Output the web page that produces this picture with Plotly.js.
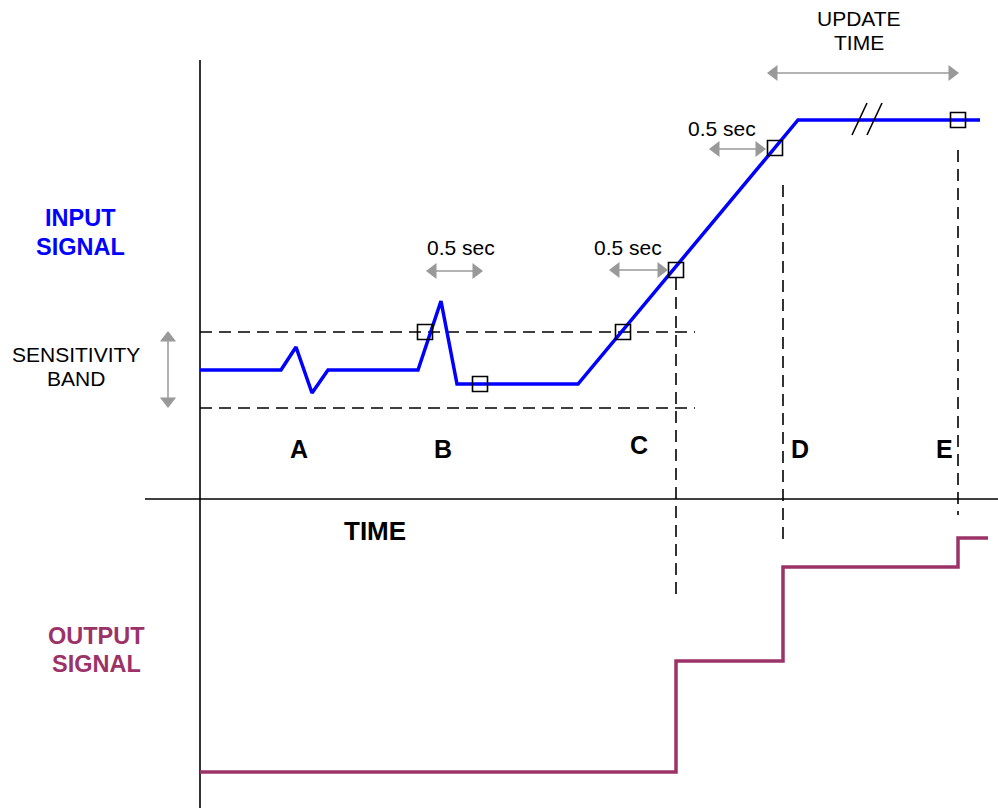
<!DOCTYPE html>
<html>
<head>
<meta charset="utf-8">
<script src="https://cdn.plot.ly/plotly-3.0.1.min.js"></script>
<style>html,body{margin:0;padding:0;background:#fff;}#chart{width:998px;height:808px;}</style>
</head>
<body>
<div id="chart"></div>
<script>
// Diagram coordinates (time on x, signal level on y; y grows downward)
var inputTime   = [200, 281, 296, 312, 328, 418, 441, 457, 578, 798, 980];
var inputSignal = [370, 370, 347, 393, 370, 370, 301, 384, 384, 120, 120];

var outputTime   = [200, 676, 676, 783, 783, 958, 958, 988];
var outputSignal = [772, 772, 661, 661, 567, 567, 538, 538];

var sampleTime  = [425, 480, 623, 676, 775, 958];
var sampleValue = [332, 384, 332, 270, 148, 120];

var bandUpper = 332, bandLower = 408, bandStart = 200, bandEnd = 695;

var markerTime = [676, 783, 958];
var markerTop  = [278, 185, 150];
var markerBottom = [600, 545, 515];

var eventLabels = ['A', 'B', 'C', 'D', 'E'];
var eventX = [299, 443, 639, 800, 944];
var eventY = [449, 449, 445, 449, 449];

var intervalLabels = ['0.5 sec', '0.5 sec', '0.5 sec'];
var intervalStart = [427, 610, 710];
var intervalEnd   = [482, 667, 765];
var intervalY     = [271, 270, 149];
var intervalTextX = [461, 628, 722];
var intervalTextY = [247, 247, 128];

var updateStart = 768, updateEnd = 958, updateY = 73;

var FONT = 'Liberation Sans, Arial, sans-serif';
var GRAY = '#999999';
var BLUE = '#0000FF';
var PURPLE = '#9B3368';

var traces = [];
function line(xs, ys, color, width, dash) {
  traces.push({x: xs, y: ys, mode: 'lines', type: 'scatter', hoverinfo: 'skip',
    line: {color: color, width: width, dash: dash || 'solid'}});
}
function hArrow(x0, x1, y) {
  line([x0 + 8, x1 - 8], [y, y], GRAY, 1.5);
  traces.push({x: [x0 + 6, x1 - 6], y: [y, y], mode: 'markers', type: 'scatter', hoverinfo: 'skip',
    marker: {symbol: ['triangle-left', 'triangle-right'], size: 14, color: GRAY, line: {width: 0}}});
}
function vArrow(x, y0, y1) {
  line([x, x], [y0 + 8, y1 - 8], GRAY, 1.5);
  traces.push({x: [x, x], y: [y0 + 6, y1 - 6], mode: 'markers', type: 'scatter', hoverinfo: 'skip',
    marker: {symbol: ['triangle-up', 'triangle-down'], size: 14, color: GRAY, line: {width: 0}}});
}

var DASH = '12px,7px';
// axes
line([200, 200], [60, 808], '#000', 1.6);
line([145, 998], [499, 499], '#000', 1.6);
// sensitivity band
line([bandStart, bandEnd], [bandUpper, bandUpper], '#000', 1.6, DASH);
line([bandStart, bandEnd], [bandLower, bandLower], '#000', 1.6, DASH);
// vertical markers
for (var i = 0; i < markerTime.length; i++) {
  line([markerTime[i], markerTime[i]], [markerTop[i], markerBottom[i]], '#000', 1.6, DASH);
}
// signals
line(inputTime, inputSignal, BLUE, 3.5);
line(outputTime, outputSignal, PURPLE, 3.5);
// break marks
line([852, 867], [135, 103], '#000', 1.6);
line([867, 882], [135, 103], '#000', 1.6);
// samples
traces.push({x: sampleTime, y: sampleValue, mode: 'markers', type: 'scatter', hoverinfo: 'skip',
  marker: {symbol: 'square-open', size: 15, color: '#000', line: {width: 1.6, color: '#000'}}});
// arrows
for (var j = 0; j < intervalStart.length; j++) hArrow(intervalStart[j], intervalEnd[j], intervalY[j]);
hArrow(updateStart, updateEnd, updateY);
vArrow(168, bandUpper, bandLower - 1);

var ann = [];
function txt(x, y, t, size, color, bold) {
  ann.push({x: x, y: y, text: bold ? '<b>' + t + '</b>' : t, showarrow: false, xanchor: 'center', yanchor: 'middle',
    font: {family: FONT, size: size, color: color}});
}
for (var k = 0; k < eventLabels.length; k++) txt(eventX[k], eventY[k], eventLabels[k], 25, '#000', true);
for (var m = 0; m < intervalLabels.length; m++) txt(intervalTextX[m], intervalTextY[m], intervalLabels[m], 21, '#000', false);
txt(859, 18, 'UPDATE', 21, '#000', false);
txt(859, 42, 'TIME', 21, '#000', false);
txt(76, 354, 'SENSITIVITY', 21, '#000', false);
txt(76, 378, 'BAND', 21, '#000', false);
txt(80, 218, 'INPUT', 23.5, BLUE, true);
txt(80, 247, 'SIGNAL', 23.5, BLUE, true);
txt(96, 636, 'OUTPUT', 23.5, PURPLE, true);
txt(96, 664, 'SIGNAL', 23.5, PURPLE, true);
txt(375, 531, 'TIME', 26, '#000', true);

var layout = {
  width: 998, height: 808, margin: {l: 0, r: 0, t: 0, b: 0},
  paper_bgcolor: '#fff', plot_bgcolor: '#fff', showlegend: false,
  xaxis: {range: [0, 998], visible: false, fixedrange: true},
  yaxis: {range: [808, 0], visible: false, fixedrange: true},
  annotations: ann
};
Plotly.newPlot('chart', traces, layout, {staticPlot: true, displayModeBar: false});
</script>
</body>
</html>
